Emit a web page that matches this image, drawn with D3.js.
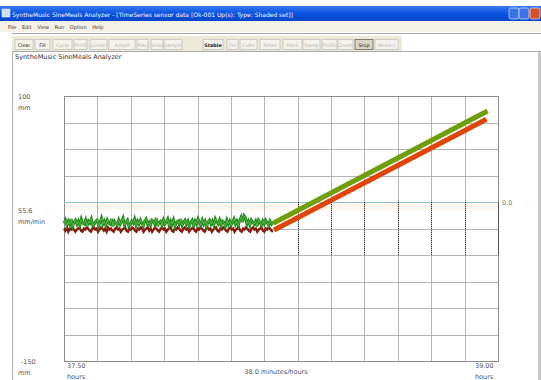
<!DOCTYPE html>
<html><head><meta charset="utf-8">
<script src="https://cdn.jsdelivr.net/npm/d3@7"></script>
<style>
html,body{margin:0;padding:0;background:#fff;overflow:hidden}
text{font-family:"DejaVu Sans",sans-serif}
</style></head>
<body><svg id="c" width="541" height="380"></svg>
<script>
// ---- data ----
const xDomain = [37.5, 39.0];
const yDomain = [-150, 100];
const noiseStart = 37.5, noiseEnd = 38.222;
const greenNoise = [-20,-17,-22,-18,-21,-16,-23,-19,-17,-21,-18,-22,-16,-20,-21,-17,-23,-18,-20,-16,-22,-21,-18,-17,-23,-19,-15,-21,-18,-22,-17,-20,-21,-16,-23,-18,-20,-22,-17,-21,-18,-15,-22,-19,-17,-23,-21,-18,-20,-16,-22,-18,-21,-17,-20,-23,-18,-16,-21,-19,-22,-17,-18,-21,-15,-23,-19,-18,-22,-17,-21,-19,-16,-22,-18,-21,-17,-23,-19,-18,-21,-16,-22,-19,-17,-21,-18,-23,-19,-17,-22,-18,-21,-16,-19,-22,-17,-21,-18,-23,-19,-17,-21,-18,-22,-16,-19,-21,-17,-22,-18,-19,-23,-17,-21,-18,-22,-19,-16,-21,-18,-22,-17,-14,-19,-13,-15,-21,-18,-22,-17,-19,-21,-18,-23,-17,-19,-22,-18,-21,-17,-19,-22,-18,-21,-19];
const redNoise = [-25,-27,-24,-28,-25,-26,-24,-26,-28,-26,-25,-24,-27,-28,-25,-26,-24,-25,-27,-28,-25,-24,-26,-25,-28,-26,-24,-25,-27,-25,-28,-24,-26,-25,-27,-28,-25,-24,-26,-25,-28,-26,-25,-24,-27,-28,-25,-26,-24,-25,-27,-28,-25,-26,-24,-25,-28,-26,-25,-24,-27,-25,-28,-26,-24,-25,-27,-28,-25,-24,-26,-25,-28,-26,-25,-24,-27,-28,-25,-26,-24,-25,-27,-28,-25,-24,-26,-25,-28,-26,-25,-24,-27,-28,-25,-26,-24,-25,-27,-28,-25,-24,-26,-25,-28,-26,-25,-24,-27,-28,-25,-26,-24,-25,-27,-28,-25,-24,-26,-25,-28,-26,-25,-24,-27,-28,-25,-26,-24,-25,-27,-28,-25,-24,-26,-25,-28,-26,-25,-24,-27,-28,-25,-26,-24,-25,-27,-28];
const greenRamp = [[38.223, -20.1],[38.964, 85.8]];
const redRamp = [[38.226, -26.4],[38.960, 78.0]];
const zeroLevel = 0, lowerLevel = -50;
const gridCols = 13, gridRows = 10;
const yLabelsLeft = [["100","mm"],["55.6","mm/min"],["-150","mm"]];
const xLabels = [["37.50","hours"],["38.0 minutes/hours"],["39.00","hours"]];
const toolbarButtons = [["Clear",15,33,1],["Fill",35,50,1],["Cycle",53,72,0],["Profil",74,87,0],["Linear",90,107,0],["Amplif",109,135,0],["Max",137,148,0],["Scale",151,163,0],["Sample",164,182,0],["Stable",203,223,1],["Pol",227,238,0],["Cube",240,257,0],["Reset",260,280,0],["Mark",283,302,0],["Ramp",303,320,0],["Profile",322,337,0],["Zoom",338,353,0],["Stop",355,373,2],["Restart",375,398,0]];

const svg = d3.select("#c");
// window chrome
const defs = svg.append("defs");
const g1 = defs.append("linearGradient").attr("id","tb").attr("x1",0).attr("x2",0).attr("y1",0).attr("y2",1);
g1.append("stop").attr("offset","0").attr("stop-color","#3a7cf0");
g1.append("stop").attr("offset","0.5").attr("stop-color","#0a52e0");
g1.append("stop").attr("offset","1").attr("stop-color","#0845c8");
svg.append("rect").attr("x",0).attr("y",6).attr("width",541).attr("height",15).attr("fill","url(#tb)");
svg.append("rect").attr("x",2).attr("y",9).attr("width",8).attr("height",8).attr("fill","#cde").attr("stroke","#fff").attr("stroke-width",0.5);
svg.append("text").attr("x",12).attr("y",16.5).attr("fill","#fff").attr("font-size",6)
  .text("SyntheMusic SineMeals Analyzer  -  [TimeSeries sensor data  [Ok-001  Up(s): Type: Shaded set]]");
[[509,"#3a72e8"],[519,"#3a72e8"],[530,"#d8502a"]].forEach(([x,c])=>{
  svg.append("rect").attr("x",x).attr("y",8).attr("width",10).attr("height",11).attr("rx",2).attr("fill",c).attr("stroke","#fff").attr("stroke-width",0.6);
});
svg.append("rect").attr("x",0).attr("y",21).attr("width",541).attr("height",11).attr("fill","#f3f0e6");
svg.append("text").attr("x",8).attr("y",28.5).attr("font-size",5).attr("fill","#333").attr("word-spacing",4).text("File Edit View Run Option Help");
svg.append("rect").attr("x",12).attr("y",33).attr("width",529).attr("height",19).attr("fill","#fff");
svg.append("line").attr("x1",12).attr("x2",541).attr("y1",33.5).attr("y2",33.5).attr("stroke","#aaa");
svg.append("line").attr("x1",12).attr("x2",541).attr("y1",51.5).attr("y2",51.5).attr("stroke","#aaa");
svg.append("rect").attr("x",12).attr("y",36).attr("width",390).attr("height",15).attr("fill","#ece9d8");
toolbarButtons.forEach(([t,a,b,s])=>{
  svg.append("rect").attr("x",a).attr("y",39.5).attr("width",b-a).attr("height",10).attr("fill",s==2?"#d8d4c4":"#f4f2ea").attr("stroke",s==2?"#555":"#bbb").attr("stroke-width",0.7);
  svg.append("text").attr("x",(a+b)/2).attr("y",47).attr("text-anchor","middle").attr("font-size",4.8)
    .attr("fill",s?"#222":"#bbb").attr("font-weight",s==1&&t=="Stable"?"bold":"normal").text(t);
});
svg.append("text").attr("x",15).attr("y",59).attr("font-size",6.5).attr("fill","#333").text("SyntheMusic  SineMeals  Analyzer");
svg.append("line").attr("x1",12.5).attr("x2",12.5).attr("y1",52).attr("y2",380).attr("stroke","#b0b0b0");
svg.append("rect").attr("x",538).attr("y",52).attr("width",3).attr("height",328).attr("fill","#c8c8c8");

// chart
const x = d3.scaleLinear().domain(xDomain).range([64,498]);
const y = d3.scaleLinear().domain(yDomain).range([361,96]);
const plot = svg.append("g");
plot.append("rect").attr("x",x(xDomain[0])).attr("y",y(zeroLevel)).attr("width",x(xDomain[1])-x(xDomain[0])).attr("height",y(-8)-y(zeroLevel)).attr("fill","#fff6ee");
const xt = d3.range(gridCols+1).map(i=>xDomain[0]+i*(xDomain[1]-xDomain[0])/gridCols);
const yt = d3.range(gridRows+1).map(i=>yDomain[0]+i*(yDomain[1]-yDomain[0])/gridRows);
plot.selectAll(".vg").data(xt).join("line").attr("x1",d=>Math.round(x(d))+0.5).attr("x2",d=>Math.round(x(d))+0.5)
  .attr("y1",y(yDomain[1])).attr("y2",y(yDomain[0])).attr("stroke","#b4b4b4");
plot.selectAll(".hg").data(yt).join("line").attr("y1",d=>Math.round(y(d))+0.5).attr("y2",d=>Math.round(y(d))+0.5)
  .attr("x1",x(xDomain[0])).attr("x2",x(xDomain[1])).attr("stroke","#b4b4b4");
plot.append("rect").attr("x",x(xDomain[0])+0.5).attr("y",y(yDomain[1])+0.5).attr("width",x(xDomain[1])-x(xDomain[0])).attr("height",y(yDomain[0])-y(yDomain[1])).attr("fill","none").attr("stroke","#8c8c8c");
// zero line
plot.append("line").attr("x1",x(xDomain[0])).attr("x2",x(xDomain[1])).attr("y1",Math.round(y(zeroLevel))+0.5).attr("y2",Math.round(y(zeroLevel))+0.5).attr("stroke","#8fc4cf").attr("stroke-width",1.2);
plot.append("text").attr("x",502).attr("y",y(zeroLevel)+2.5).attr("font-size",6.5).attr("fill","#777").text("0.0");
// dotted projections
const dotted = xt.filter((d,i)=>i>=7 && i<=12);
plot.selectAll(".dl").data(dotted).join("line").attr("x1",d=>Math.round(x(d))+0.5).attr("x2",d=>Math.round(x(d))+0.5)
  .attr("y1",y(zeroLevel)).attr("y2",y(lowerLevel)).attr("stroke","#333").attr("stroke-dasharray","1,1");
plot.append("line").attr("x1",x(xDomain[1])+0.5).attr("x2",x(xDomain[1])+0.5).attr("y1",y(zeroLevel)).attr("y2",y(lowerLevel)).attr("stroke","#555");

const tx = (arr)=>arr.map((v,i)=>[noiseStart+i*(noiseEnd-noiseStart)/(arr.length-1), v]);
const line = d3.line().x(d=>x(d[0])).y(d=>y(d[1]));
plot.append("path").attr("d",line(tx(redNoise))).attr("fill","none").attr("stroke","#8a1a0c").attr("stroke-width",2.4);
plot.append("path").attr("d",line(tx(greenNoise))).attr("fill","none").attr("stroke","#23881c").attr("stroke-width",2.8);
plot.append("path").attr("d",line(tx(greenNoise))).attr("fill","none").attr("stroke","#6ccc56").attr("stroke-width",0.8).attr("opacity",0.8);
plot.append("path").attr("d",line(redRamp)).attr("fill","none").attr("stroke","#e04406").attr("stroke-width",5);
plot.append("path").attr("d",line(greenRamp)).attr("fill","none").attr("stroke","#6e9e08").attr("stroke-width",5);

// labels
const fs = 6.5;
svg.append("text").attr("x",18).attr("y",99).attr("font-size",fs).attr("fill","#555").text(yLabelsLeft[0][0]);
svg.append("text").attr("x",18).attr("y",110).attr("font-size",fs).attr("fill","#555").text(yLabelsLeft[0][1]);
svg.append("text").attr("x",18).attr("y",213).attr("font-size",fs).attr("fill","#555").text(yLabelsLeft[1][0]);
svg.append("text").attr("x",18).attr("y",224).attr("font-size",fs).attr("fill","#555").text(yLabelsLeft[1][1]);
svg.append("text").attr("x",21).attr("y",364).attr("font-size",fs).attr("fill","#555").text(yLabelsLeft[2][0]);
svg.append("text").attr("x",18).attr("y",375).attr("font-size",fs).attr("fill","#555").text(yLabelsLeft[2][1]);
svg.append("text").attr("x",x(xDomain[0])+3).attr("y",368).attr("font-size",fs).attr("fill","#555").text(xLabels[0][0]);
svg.append("text").attr("x",x(xDomain[0])+3).attr("y",379).attr("font-size",fs).attr("fill","#555").text(xLabels[0][1]);
svg.append("text").attr("x",x((xDomain[0]+xDomain[1])/2)-5).attr("y",374).attr("text-anchor","middle").attr("font-size",fs).attr("fill","#555").text(xLabels[1][0]);
svg.append("text").attr("x",x(xDomain[1])-23).attr("y",368).attr("font-size",fs).attr("fill","#555").text(xLabels[2][0]);
svg.append("text").attr("x",x(xDomain[1])-23).attr("y",379).attr("font-size",fs).attr("fill","#555").text(xLabels[2][1]);
</script></body></html>
